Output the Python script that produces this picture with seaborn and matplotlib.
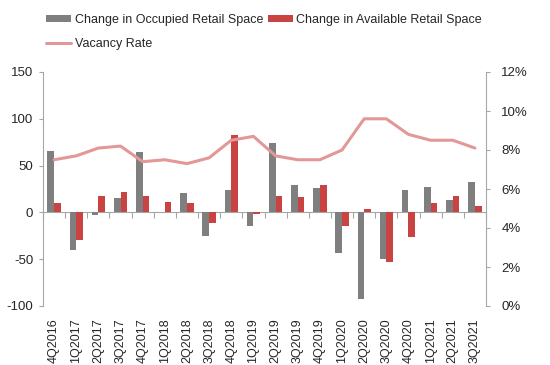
"""Retail space changes vs. vacancy rate, 4Q2016-3Q2021."""

import matplotlib

matplotlib.use("Agg")
import matplotlib.pyplot as plt
import numpy as np
import pandas as pd
import seaborn as sns
from matplotlib.lines import Line2D
from matplotlib.patches import Patch

quarters = [
    "4Q2016", "1Q2017", "2Q2017", "3Q2017", "4Q2017", "1Q2018", "2Q2018",
    "3Q2018", "4Q2018", "1Q2019", "2Q2019", "3Q2019", "4Q2019", "1Q2020",
    "2Q2020", "3Q2020", "4Q2020", "1Q2021", "2Q2021", "3Q2021",
]
occupied = [66, -40, -3, 15, 64, 0, 21, -25, 24, -14, 74, 29, 26, -43, -93, -50, 24, 27, 13, 33]
available = [10, -30, 18, 22, 18, 11, 10, -11, 83, -2, 18, 16, 29, -15, 4, -53, -26, 10, 18, 7]
vacancy = [7.5, 7.7, 8.1, 8.2, 7.4, 7.5, 7.3, 7.6, 8.5, 8.7, 7.7, 7.5, 7.5, 8.0, 9.6, 9.6, 8.8, 8.5, 8.5, 8.1]

occ_label = "Change in Occupied Retail Space"
avail_label = "Change in Available Retail Space"
vac_label = "Vacancy Rate"

gray = "#7f7f7f"
red = "#c94343"
pink = "#e39797"
axis_gray = "#a6a6a6"

sns.set_style("white")
plt.rcParams["font.family"] = ["Liberation Sans", "DejaVu Sans"]
plt.rcParams["font.size"] = 9
plt.rcParams["axes.unicode_minus"] = False

# Long-form table for seaborn
df = pd.DataFrame({
    "Quarter": quarters * 2,
    "Series": [occ_label] * len(quarters) + [avail_label] * len(quarters),
    "Value": occupied + available,
})

fig = plt.figure(figsize=(5.5, 3.65), dpi=100)
ax = fig.add_axes([43 / 550, 1 - 306 / 365, (486 - 43) / 550, (306 - 72) / 365])

sns.barplot(
    data=df, x="Quarter", y="Value", hue="Series",
    order=quarters, hue_order=[occ_label, avail_label],
    palette=[gray, red], width=0.6, gap=0, legend=False, ax=ax,
    saturation=1, linewidth=0,
)

ax.set_xlim(-0.5, len(quarters) - 0.5)
ax.set_ylim(-100, 150)
ax.set_yticks(np.arange(-100, 151, 50))
ax.set_xlabel("")
ax.set_ylabel("")
for side in ["top", "right", "bottom"]:
    ax.spines[side].set_visible(False)
ax.spines["left"].set_color(axis_gray)
ax.tick_params(axis="y", direction="out", length=3, color=axis_gray, pad=4, labelsize=9.5)
ax.tick_params(axis="x", length=0, pad=9, labelsize=9, rotation=90)

# Zero line with category separators
zero_axis = ax.secondary_xaxis(0.4)
zero_axis.set_xticks(np.arange(-0.5, len(quarters), 1))
zero_axis.tick_params(direction="out", length=4, color=axis_gray, labelbottom=False, labeltop=False)
for sp in zero_axis.spines.values():
    sp.set_color(axis_gray)

# Vacancy rate on secondary axis
ax2 = ax.twinx()
sns.lineplot(x=np.arange(len(quarters)), y=vacancy, color=pink, linewidth=2.2, ax=ax2)
ax2.set_ylim(0, 12)
ax2.set_yticks(np.arange(0, 13, 2))
ax2.set_yticklabels([f"{v}%" for v in range(0, 13, 2)])
for side in ["top", "left", "bottom"]:
    ax2.spines[side].set_visible(False)
ax2.spines["right"].set_color(axis_gray)
ax2.tick_params(axis="y", direction="out", length=3, color=axis_gray, pad=8, labelsize=9.5)
ax2.set_ylabel("")

handles = [
    Patch(facecolor=gray, edgecolor="none"),
    Line2D([], [], color=pink, linewidth=2.2),
    Patch(facecolor=red, edgecolor="none"),
]
labels = [occ_label, vac_label, avail_label]
fig.legend(
    handles, labels, loc="upper left", bbox_to_anchor=(46 / 550, 1 - 14 / 365),
    ncol=2, frameon=False, borderpad=0, borderaxespad=0, handlelength=2.0,
    handleheight=0.5, handletextpad=0.3, columnspacing=0.35, labelspacing=0.95,
    fontsize=9,
)

plt.savefig("out.png", dpi=100)
